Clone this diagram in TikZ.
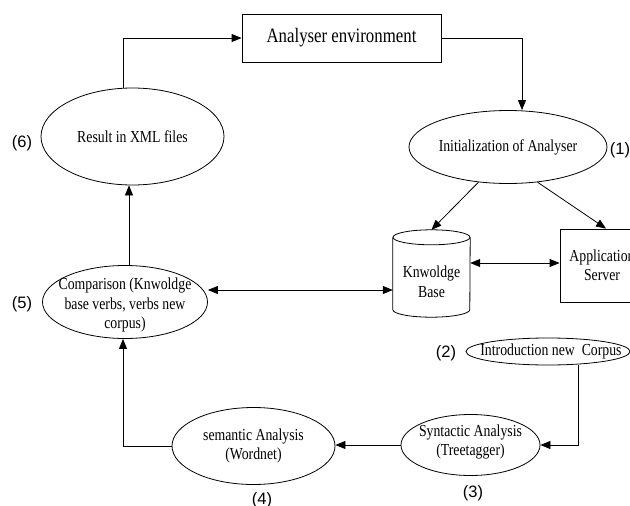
\documentclass[tikz,border=0pt]{standalone}
\usepackage{fontspec}
\setmainfont{Liberation Serif}[FakeStretch=0.82]
\newfontfamily\lblfont{Liberation Sans}
\usetikzlibrary{arrows.meta,shapes.geometric}
\tikzset{
  txt/.style={font=\fontsize{16.8}{19.5}\selectfont, align=center, inner sep=0pt},
  ell/.style={draw, ellipse, inner sep=0pt, line width=0.8pt},
  boxed/.style={txt, draw, rectangle, line width=0.8pt},
  lbl/.style={font=\lblfont\fontsize{16.5}{18}\selectfont, inner sep=0pt},
  arr/.style={-{Triangle[length=10pt,width=8pt]}, line width=0.8pt},
  dbl/.style={{Triangle[length=10pt,width=8pt]}-{Triangle[length=10pt,width=8pt]}, line width=0.8pt},
  cyl/.style={line width=0.8pt}
}
\begin{document}
\begin{tikzpicture}[x=1pt,y=-1pt]
\useasboundingbox (0,0) rectangle (630,506);

% nodes
\node[boxed, minimum width=199pt, minimum height=48pt, font=\fontsize{20.5}{22}\selectfont] (env) at (341.5,38) {Analyser environment};
\node[ell, minimum width=183pt, minimum height=97pt, label={[txt]center:Result in XML files}] (result) at (132.5,136.5) {};
\node[ell, minimum width=198pt, minimum height=73pt, label={[txt]center:Initialization of Analyser}] (init) at (508,147) {};
\node[ell, minimum width=165pt, minimum height=73pt, label={[txt,yshift=-3pt]center:{Comparison (Knwoldge\\base verbs, verbs new\\corpus)}}] (comp) at (125,302) {};
\node[ell, minimum width=164pt, minimum height=27pt, label={[txt,xshift=3pt]center:{Introduction new\ \ Corpus}}] (intro) at (548,351.5) {};
\node[ell, minimum width=139pt, minimum height=61pt, label={[txt,yshift=3pt]center:{Syntactic Analysis\\(Treetagger)}}] (syn) at (470.5,445) {};
\node[ell, minimum width=163pt, minimum height=77pt, label={[txt]center:{semantic Analysis\\(Wordnet)}}] (sem) at (253.5,446) {};
\node[boxed, minimum width=84pt, minimum height=73pt] (app) at (602,265.5) {Application\\Server};

% knowledge base cylinder
\node[txt, minimum width=77pt, minimum height=87pt] (kb) at (431.5,273.5) {};
\draw[cyl] ([yshift=-7.5pt]kb.north) ellipse [x radius=38.5pt, y radius=7.5pt];
\draw[cyl] ([yshift=-7.5pt]kb.north west) -- ([yshift=7.5pt]kb.south west)
  arc [start angle=180, end angle=360, x radius=38.5pt, y radius=7.5pt]
  -- ([yshift=-7.5pt]kb.north east);
\node[txt] (kbtext) at ([yshift=-8.5pt]kb.center) {Knwoldge\\Base};

% labels
\node[lbl] (l1) at (620,150) {(1)};
\node[lbl] (l2) at (446,353) {(2)};
\node[lbl] (l3) at (473,493) {(3)};
\node[lbl] (l4) at (262,500) {(4)};
\node[lbl] (l5) at (22,304) {(5)};
\node[lbl] (l6) at (22,143) {(6)};

% connectors
\draw[arr] ([xshift=-9.5pt]result.north) |- (env.west);
\draw[arr] (env.east) -| ([xshift=14pt]init.north);
\draw[arr] (init.-130) -- (kb.north);
\draw[arr] (init.-50) -- ([xshift=4pt]app.north);
\draw[dbl] ([yshift=10.5pt]kb.east) -- ([yshift=10.5pt]kb.east -| app.west);
\draw[dbl] ([yshift=12pt]comp.east) -- ([yshift=12pt]comp.east -| kb.west);
\draw[arr] ([xshift=4pt]comp.north) -- ([xshift=4pt]comp.north |- result.south);
\draw[arr] ([xshift=30pt]intro.south) |- (syn.east);
\draw[arr] (syn.west) -- (sem.east |- syn.west);
\draw[arr] (sem.west) -| ([xshift=-2pt]comp.south);
\end{tikzpicture}
\end{document}
